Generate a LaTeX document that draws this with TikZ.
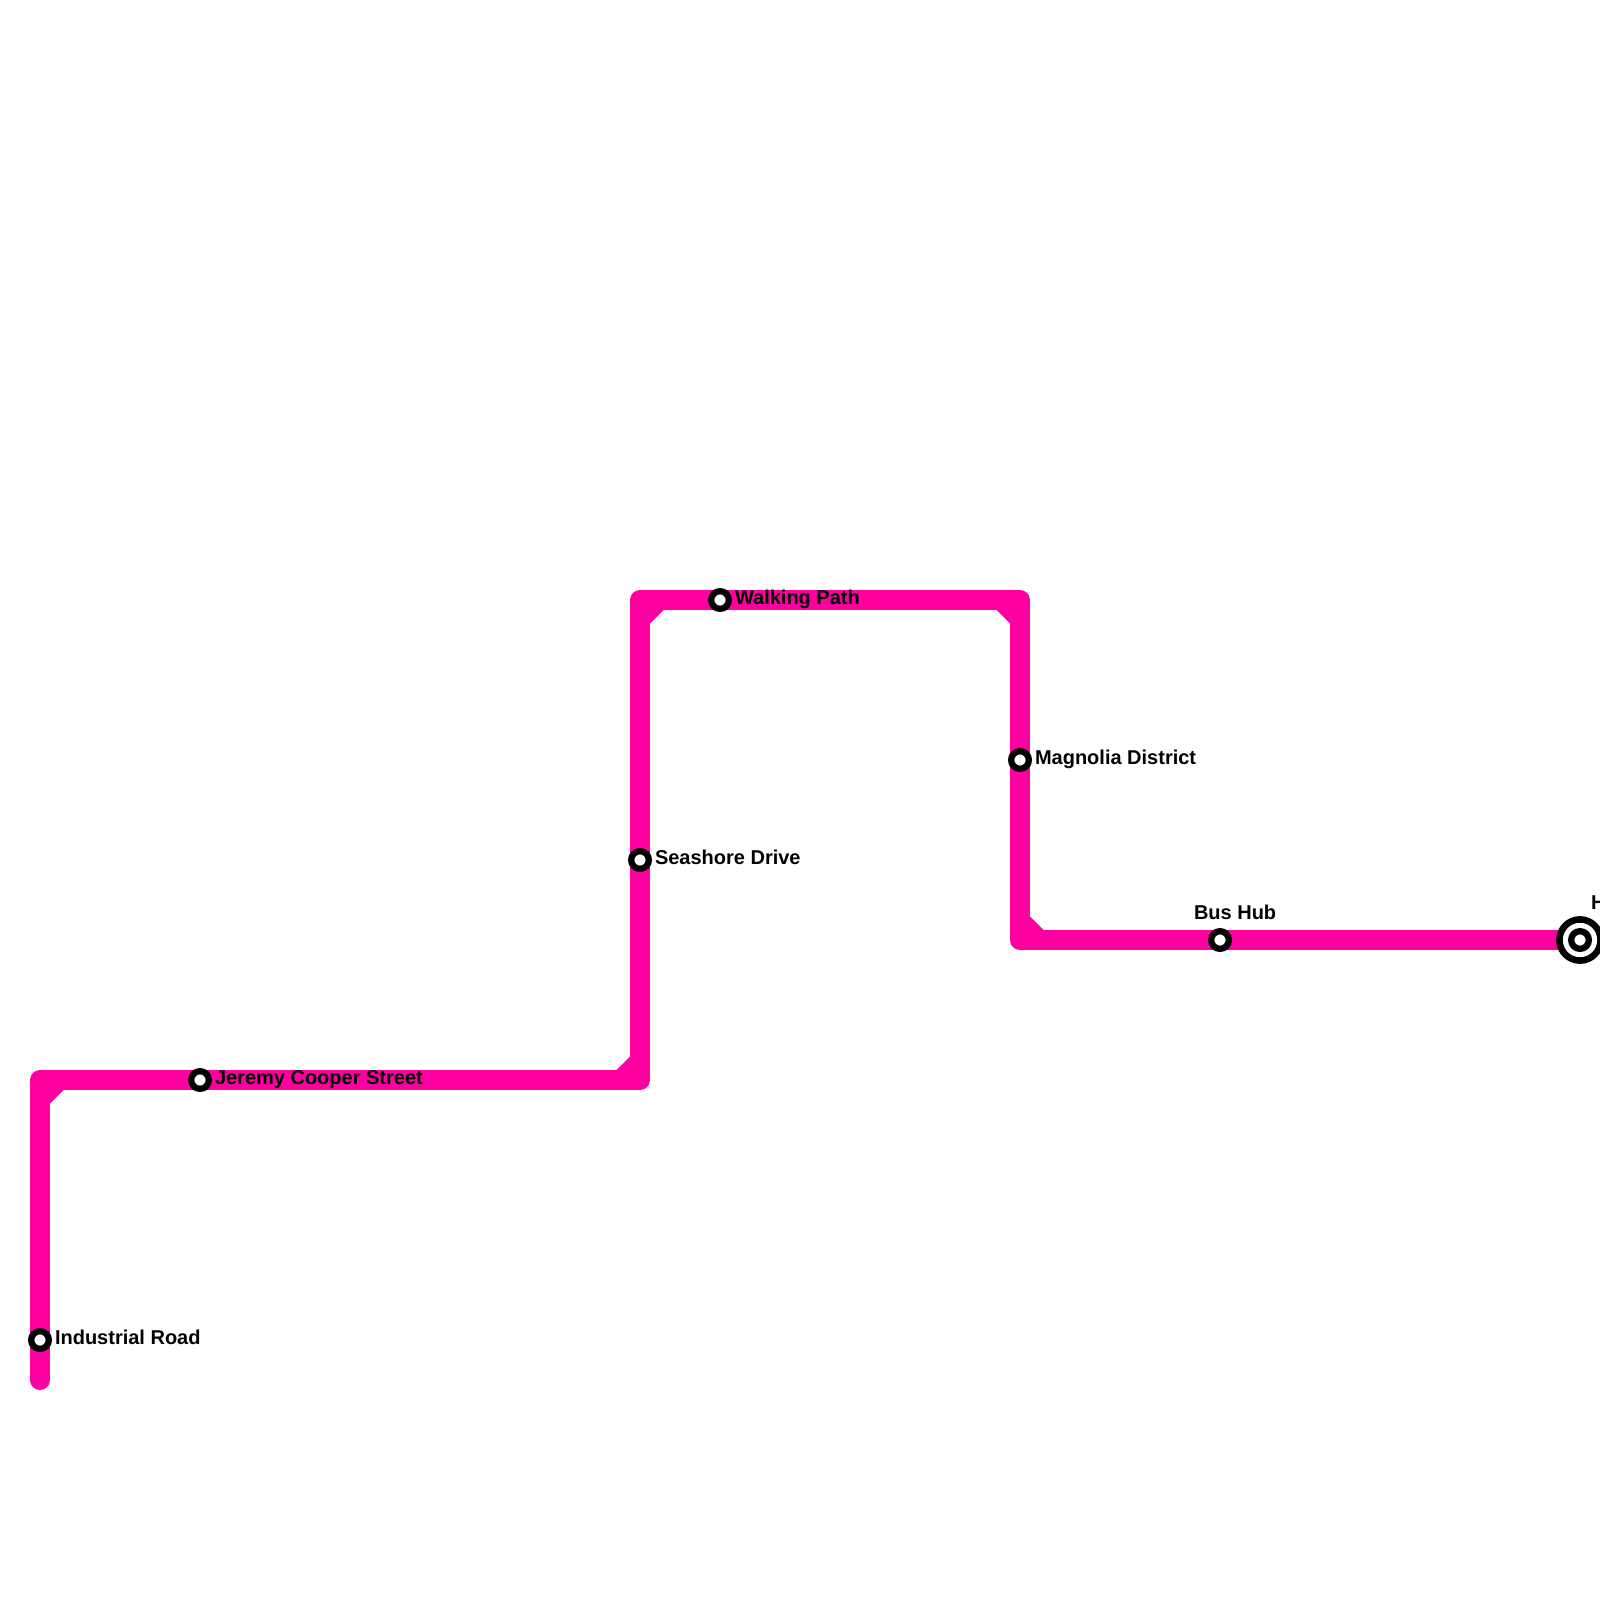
\documentclass[tikz,border=0pt]{standalone}
\usepackage{fontspec}
\setmainfont{Liberation Sans}
\definecolor{linepink}{HTML}{FF00A0}
\tikzset{
  metroline/.style={draw=linepink,line width=10pt,line cap=round,line join=round},
  chamfer/.style={fill=linepink,draw=none},
  stationdot/.style={circle,draw=black,fill=white,line width=3.15pt,minimum size=8.85pt,inner sep=0pt,outer sep=0pt},
  terminalring/.style={circle,draw=black,fill=white,line width=3.3pt,minimum size=20.6pt,inner sep=0pt,outer sep=0pt},
  stationlabel/.style={font=\bfseries\fontsize{10}{12}\selectfont,text=black,inner sep=0pt,outer sep=0pt},
}
\begin{document}
\begin{tikzpicture}[x=0.5pt,y=-0.5pt]
\useasboundingbox (0,0) rectangle (1600,1600);
\coordinate (a) at (40,1380);
\coordinate (b) at (40,1080);
\coordinate (c) at (640,1080);
\coordinate (d) at (640,600);
\coordinate (e) at (1020,600);
\coordinate (f) at (1020,940);
\coordinate (g) at (1580,940);
\draw[metroline] (a) -- (b) -- (c) -- (d) -- (e) -- (f) -- (g);
\fill[chamfer] (50,1090) -- (63.5,1090) -- (50,1103.5) -- cycle;
\fill[chamfer] (630,1070) -- (616.5,1070) -- (630,1056.5) -- cycle;
\fill[chamfer] (650,610) -- (663.5,610) -- (650,623.5) -- cycle;
\fill[chamfer] (1010,610) -- (996.5,610) -- (1010,623.5) -- cycle;
\fill[chamfer] (1030,930) -- (1043.5,930) -- (1030,916.5) -- cycle;
\node[stationdot] (industrial) at (40,1340) {};
\node[stationdot] (jeremy) at (200,1080) {};
\node[stationdot] (seashore) at (640,860) {};
\node[stationdot] (walking) at (720,600) {};
\node[stationdot] (magnolia) at (1020,760) {};
\node[stationdot] (bushub) at (1220,940) {};
\node[terminalring] (termouter) at (1580,940) {};
\node[stationdot] (terminner) at (1580,940) {};
\node[stationlabel,anchor=base west] (lindustrial) at (55,1344.5) {Industrial Road};
\node[stationlabel,anchor=base west] (ljeremy) at (215,1084.5) {Jeremy Cooper Street};
\node[stationlabel,anchor=base west] (lseashore) at (655,864.5) {Seashore Drive};
\node[stationlabel,anchor=base west] (lwalking) at (735,604.5) {Walking Path};
\node[stationlabel,anchor=base west] (lmagnolia) at (1035,764.5) {Magnolia District};
\node[stationlabel,anchor=base west] (lbushub) at (1194,919.5) {Bus Hub};
\node[stationlabel,anchor=base west] (lh) at (1591,909.5) {H};
\end{tikzpicture}
\end{document}
